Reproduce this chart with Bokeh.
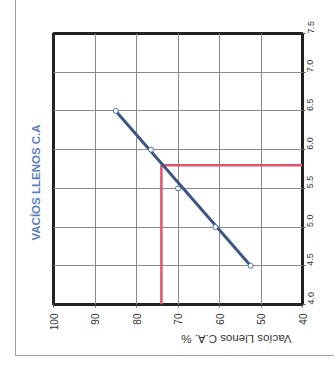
import math
from bokeh.plotting import figure
from bokeh.models import Range1d, FixedTicker, NumeralTickFormatter, Title
from bokeh.embed import file_html
from bokeh.resources import INLINE

# Data (Vacíos Llenos C.A. % vs. contenido de C.A. %)
vfa = [85, 76.5, 70, 61, 52.5]
ca = [6.5, 6.0, 5.5, 5.0, 4.5]
trend_vfa = [85, 52.5]
trend_ca = [6.5, 4.5]
design_vfa = 74
design_ca = 5.8
vfa_ticks = [40, 50, 60, 70, 80, 90, 100]
ca_ticks = [4.0, 4.5, 5.0, 5.5, 6.0, 6.5, 7.0, 7.5]

p = figure(width=319, height=356, x_range=Range1d(100, 40), y_range=Range1d(4.0, 7.5),
           output_backend="svg", toolbar_location=None, y_axis_location="right",
           min_border_left=36, min_border_right=33, min_border_top=33, min_border_bottom=52,
           margin=(0, 0, 0, 15))
p.styles = {"border-left": "1px solid #a0a0a0", "border-bottom": "1px solid #a0a0a0"}
p.background_fill_color = "white"
p.border_fill_color = "white"
p.outline_line_color = "#222222"
p.outline_line_width = 3

p.xaxis.ticker = FixedTicker(ticks=vfa_ticks)
p.yaxis.ticker = FixedTicker(ticks=ca_ticks)
p.xaxis.formatter = NumeralTickFormatter(format="0")
p.yaxis.formatter = NumeralTickFormatter(format="0.0")
for ax in (p.xaxis, p.yaxis):
    ax.axis_line_color = None
    ax.major_tick_line_color = "#555555"
    ax.major_tick_out = 3
    ax.major_tick_in = 0
    ax.minor_tick_line_color = None
    ax.major_label_text_font = "Liberation Sans"
    ax.major_label_text_color = "#333333"
    ax.major_label_orientation = math.pi / 2
p.xaxis.major_label_text_font_size = "10px"
p.yaxis.major_label_text_font_size = "9px"
p.xaxis.major_label_standoff = 6
p.yaxis.major_label_standoff = 5

p.xaxis.axis_label = "Vacíos Llenos  C.A. %"
p.xaxis.axis_label_orientation = math.pi
p.xaxis.axis_label_standoff = 6
p.xaxis.axis_label_text_font = "Liberation Sans"
p.xaxis.axis_label_text_font_style = "normal"
p.xaxis.axis_label_text_font_size = "11.5px"
p.xaxis.axis_label_text_color = "#333333"

p.xgrid.ticker = FixedTicker(ticks=vfa_ticks)
p.ygrid.ticker = FixedTicker(ticks=ca_ticks)
p.grid.grid_line_color = "#8a8a8a"
p.grid.grid_line_width = 1

# red design lines
p.line([design_vfa, design_vfa], [4.0, design_ca], line_color="#e3536f", line_width=2.5)
p.line([design_vfa, 40], [design_ca, design_ca], line_color="#e3536f", line_width=2.5)

# trend line and points
p.line(trend_vfa, trend_ca, line_color="#3e5686", line_width=3)
p.scatter(vfa, ca, marker="circle", size=5, fill_color="white", line_color="#4f6fa0", line_width=1)

# title on the left side
p.add_layout(Title(text="VACÍOS LLENOS C.A", align="left", offset=64, standoff=23,
                   text_font="Liberation Sans", text_font_style="bold", text_font_size="11.5px",
                   text_color="#5b7fbd"), "left")

open("out.html", "w").write(file_html(p, INLINE))
